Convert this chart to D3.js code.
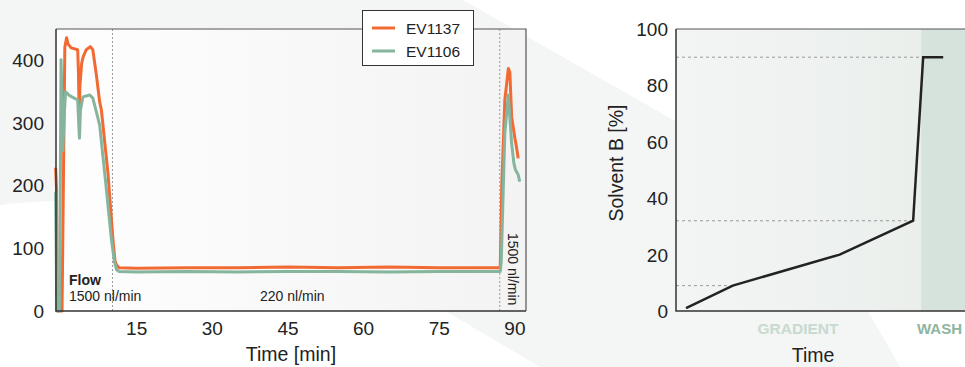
<!DOCTYPE html>
<html lang="en">
<head>
<meta charset="UTF-8">
<title>Pressure trace and solvent gradient</title>
<style>
    body {
        margin: 0;
        background: #fff;
        font-family: 'Liberation Sans', Arial, sans-serif;
    }
    svg { display: block; }
    .tick-label { font-size: 19px; fill: #222; }
    .axis-title { font-size: 19.5px; fill: #222; }
    .note { font-size: 14px; fill: #222; }
</style>
</head>
<body>
<div id="chart"></div>

<script src="https://d3js.org/d3.v7.min.js"></script>
<script>
    // EV1137 trace (time in min, value)
    const ev1137Time = [-1.07, -0.9, -0.7, 0.2, 0.75, 1.1, 1.4, 2.0, 3.3, 3.45, 3.6, 3.75, 4.1, 4.4, 5.0, 5.8, 6.3, 7.0, 7.66,
        8.0, 9.3, 10.3, 10.7, 11.0, 11.5, 15, 25, 35, 45, 55, 65, 75, 85, 86.9, 87.1, 87.4, 88.0, 88.7, 89.0, 89.35, 90.0, 90.3, 90.65];
    const ev1137Value = [228, 195, 0, 0, 420, 435, 425, 419, 416, 380, 309, 360, 395, 405, 416, 421, 416, 376, 333,
        320, 220, 113, 80, 73, 69, 68, 69, 69, 70, 69, 70, 69, 69, 69, 72, 200, 336, 386, 380, 309, 275, 262, 243];

    // EV1106 trace
    const ev1106Time = [-1.07, -0.85, -0.3, 0.0, 0.2, 0.35, 0.55, 0.9, 1.7, 3.3, 3.5, 3.65, 3.85, 4.35, 5.7, 6.3, 7.0, 7.66,
        9.0, 10.0, 10.6, 11.0, 11.5, 15, 25, 35, 45, 55, 65, 75, 85, 87.1, 87.3, 88.0, 88.7, 89.35, 89.8, 90.1, 90.65, 90.95];
    const ev1106Value = [190, 0, 0, 400, 330, 255, 300, 349, 343, 336, 300, 275, 320, 341, 344, 339, 317, 296,
        193, 113, 78, 66, 63, 62, 63, 62, 63, 63, 62, 63, 63, 63, 80, 283, 344, 267, 235, 225, 217, 206];

    const seriesNames = ["EV1137", "EV1106"];
    const seriesColors = ["#f26a33", "#86b59e"];

    const pressureTicks = [0, 100, 200, 300, 400];
    const timeTicks = [15, 30, 45, 60, 75, 90];
    const flowChanges = [10.2, 87.0];

    // solvent gradient (arbitrary time units)
    const gradTime = [3, 17, 49, 71, 74, 80];
    const gradSolvent = [1, 9, 20, 32, 90, 90];
    const solventTicks = [0, 20, 40, 60, 80, 100];
    const solventMarks = [9, 32, 90];
    const washStart = 73.4;

    const W = 965, H = 367;
    const svg = d3.select("#chart").append("svg").attr("width", W).attr("height", H);
    const defs = svg.append("defs");

    // background decoration
    svg.append("rect").attr("width", W).attr("height", H).attr("fill", "#f4f5f5");
    svg.append("path").attr("fill", "#fff")
        .attr("d", "M463,0 L965,0 L965,367 L900,367 L800,192 Z");
    svg.append("path").attr("fill", "#fff")
        .attr("d", "M0,205 Q200,180 447,312 L540,367 L0,367 Z");

    const lg1 = defs.append("linearGradient").attr("id", "bgLeft");
    lg1.append("stop").attr("offset", "0%").attr("stop-color", "#fefefe");
    lg1.append("stop").attr("offset", "100%").attr("stop-color", "#f3f3f3");
    const lg2 = defs.append("linearGradient").attr("id", "bgRight");
    lg2.append("stop").attr("offset", "0%").attr("stop-color", "#f3f5f4");
    lg2.append("stop").attr("offset", "100%").attr("stop-color", "#eaefec");

    // ---- left chart ----
    const x = d3.scaleLinear().domain([-1, 92.2]).range([56, 526]);
    const y = d3.scaleLinear().domain([0, 449]).range([311, 29]);

    svg.append("rect").attr("x", 56).attr("y", 29).attr("width", 470).attr("height", 282)
        .attr("fill", "url(#bgLeft)");

    flowChanges.forEach(t => {
        svg.append("line").attr("x1", x(t)).attr("x2", x(t)).attr("y1", 29).attr("y2", 311)
            .attr("stroke", "#999").attr("stroke-width", 1).attr("stroke-dasharray", "2,2");
    });

    const line = d3.line().x(d => x(d[0])).y(d => y(d[1]));
    const series = [
        d3.zip(ev1137Time, ev1137Value),
        d3.zip(ev1106Time, ev1106Value)
    ];
    series.forEach((s, i) => {
        svg.append("path").datum(s).attr("d", line)
            .attr("fill", "none").attr("stroke", seriesColors[i])
            .attr("stroke-width", 3).attr("stroke-linejoin", "round");
    });

    // frame
    svg.append("path").attr("d", "M56,29 H526 V311").attr("fill", "none").attr("stroke", "#555").attr("stroke-width", 1.2);
    svg.append("path").attr("d", "M56,29 V311 H526").attr("fill", "none").attr("stroke", "#333").attr("stroke-width", 1.5);

    svg.selectAll(".ytl").data(pressureTicks).enter().append("text")
        .attr("class", "tick-label").attr("x", 44).attr("y", d => y(d) + 7)
        .attr("text-anchor", "end").text(d => d);
    svg.selectAll(".xtl").data(timeTicks).enter().append("text")
        .attr("class", "tick-label").attr("x", d => x(d)).attr("y", 335)
        .attr("text-anchor", "middle").text(d => d);
    svg.append("text").attr("class", "axis-title").attr("x", 291).attr("y", 361)
        .attr("text-anchor", "middle").text("Time [min]");

    svg.append("text").attr("class", "note").attr("x", 69).attr("y", 285)
        .attr("font-weight", "bold").text("Flow");
    svg.append("text").attr("class", "note").attr("x", 69).attr("y", 301).text("1500 nl/min");
    svg.append("text").attr("class", "note").attr("x", 260).attr("y", 301).text("220 nl/min");
    svg.append("text").attr("class", "note")
        .attr("transform", "translate(508,233) rotate(90)").text("1500 nl/min");

    // legend
    const legend = svg.append("g");
    legend.append("rect").attr("x", 362.5).attr("y", 10.5).attr("width", 111).attr("height", 55)
        .attr("fill", "#fff").attr("stroke", "#333").attr("stroke-width", 1);
    seriesNames.forEach((n, i) => {
        const ly = 28 + i * 23;
        legend.append("line").attr("x1", 372).attr("x2", 395).attr("y1", ly).attr("y2", ly)
            .attr("stroke", seriesColors[i]).attr("stroke-width", 3);
        legend.append("text").attr("x", 406).attr("y", ly + 5.5)
            .attr("font-size", "15.5px").attr("fill", "#222").text(n);
    });

    // ---- right chart ----
    const gx = d3.scaleLinear().domain([0, 100]).range([676, 1010]);
    const gy = d3.scaleLinear().domain([0, 100]).range([311, 29]);

    svg.append("rect").attr("x", 676).attr("y", 29).attr("width", gx(washStart) - 676).attr("height", 282)
        .attr("fill", "url(#bgRight)");
    svg.append("rect").attr("x", gx(washStart)).attr("y", 29).attr("width", 1010 - gx(washStart)).attr("height", 282)
        .attr("fill", "#d6e3dc");

    solventMarks.forEach(v => {
        const end = gradTime[gradSolvent.indexOf(v)];
        svg.append("line").attr("x1", 676).attr("x2", gx(Math.min(end, washStart)))
            .attr("y1", gy(v)).attr("y2", gy(v))
            .attr("stroke", "#999").attr("stroke-width", 1).attr("stroke-dasharray", "3,3");
    });

    svg.append("path").datum(d3.zip(gradTime, gradSolvent))
        .attr("d", d3.line().x(d => gx(d[0])).y(d => gy(d[1])))
        .attr("fill", "none").attr("stroke", "#222").attr("stroke-width", 2.5);

    svg.append("path").attr("d", "M676,29 H965").attr("stroke", "#555").attr("stroke-width", 1.2);
    svg.append("path").attr("d", "M676,29 V311 H965").attr("fill", "none").attr("stroke", "#333").attr("stroke-width", 1.5);

    svg.selectAll(".gyt").data(solventTicks).enter().append("text")
        .attr("class", "tick-label").attr("x", 668).attr("y", d => gy(d) + 7)
        .attr("text-anchor", "end").text(d => d);
    svg.append("text").attr("class", "axis-title")
        .attr("transform", "translate(623,163) rotate(-90)")
        .attr("text-anchor", "middle").text("Solvent B [%]");
    svg.append("text").attr("class", "axis-title").attr("x", 813).attr("y", 362)
        .attr("text-anchor", "middle").text("Time");

    svg.append("text").attr("x", 798).attr("y", 334).attr("text-anchor", "middle")
        .attr("font-size", "15.5px").attr("font-weight", "bold").attr("fill", "#c6dace").text("GRADIENT");
    svg.append("text").attr("x", 917).attr("y", 334)
        .attr("font-size", "15px").attr("font-weight", "bold").attr("fill", "#8db5a0").text("WASH");
</script>
</body>
</html>
